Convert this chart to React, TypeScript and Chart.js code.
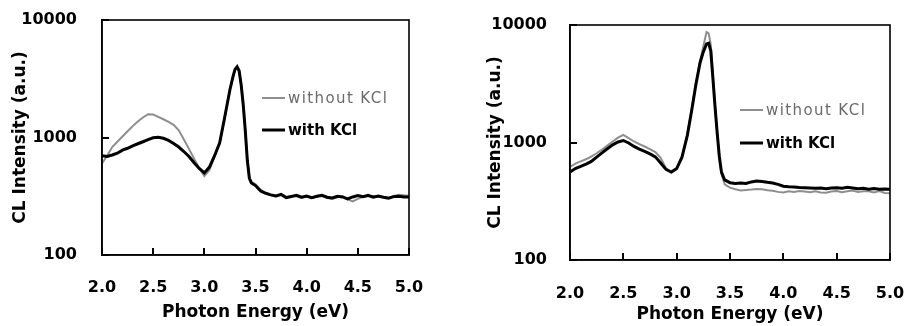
import React, { useEffect, useRef } from "react";
import { Chart, registerables } from "chart.js";

Chart.register(...registerables);

// ---------- data ----------
const yTickValues = [100, 1000, 10000];

const leftEnergy = [
  2.0, 2.05, 2.1, 2.15, 2.2, 2.25, 2.3, 2.35, 2.4, 2.45, 2.5, 2.55, 2.6, 2.65, 2.7, 2.75, 2.8, 2.85, 2.9, 2.95,
  3.0, 3.05, 3.1, 3.15, 3.2, 3.25, 3.28, 3.3, 3.32, 3.34, 3.36, 3.38, 3.4, 3.42, 3.44, 3.46, 3.5,
  3.55, 3.6, 3.65, 3.7, 3.75, 3.8, 3.85, 3.9, 3.95, 4.0, 4.05, 4.1, 4.15, 4.2, 4.25, 4.3, 4.35, 4.4,
  4.45, 4.5, 4.55, 4.6, 4.65, 4.7, 4.75, 4.8, 4.85, 4.9, 4.95, 5.0,
];
const leftWithKCl = [
  700, 690, 710, 735, 780, 810, 850, 885, 920, 960, 995, 1005, 985, 945, 890, 830, 760, 690, 610, 545,
  500, 560, 700, 900, 1500, 2550, 3300, 3800, 4000, 3700, 2800, 1900, 1150, 640, 450, 410, 390,
  350, 335, 325, 318, 328, 308, 315, 322, 310, 318, 308, 316, 322, 310, 306, 316, 312, 300,
  312, 320, 314, 322, 310, 318, 310, 304, 314, 316, 312, 312,
];
const leftWithoutKCl = [
  600, 700, 830, 920, 1020, 1130, 1250, 1370, 1480, 1580, 1570, 1500, 1430, 1360, 1280, 1150, 960, 800, 660, 550,
  470, 530, 690, 890, 1500, 2550, 3300, 3800, 4000, 3700, 2800, 1900, 1150, 650, 460, 420, 400,
  360, 338, 322, 315, 325, 312, 318, 316, 306, 314, 304, 314, 318, 305, 300, 310, 316, 298,
  286, 300, 312, 316, 318, 314, 312, 306, 318, 325, 322, 320,
];

const rightEnergy = [
  2.0, 2.05, 2.1, 2.15, 2.2, 2.25, 2.3, 2.35, 2.4, 2.45, 2.5, 2.55, 2.6, 2.65, 2.7, 2.75, 2.8, 2.85, 2.9, 2.95,
  3.0, 3.05, 3.1, 3.14, 3.18, 3.22, 3.25, 3.28, 3.3, 3.32, 3.34, 3.36, 3.38, 3.4, 3.42, 3.45, 3.5,
  3.55, 3.6, 3.65, 3.7, 3.75, 3.8, 3.85, 3.9, 3.95, 4.0, 4.05, 4.1, 4.15, 4.2, 4.25, 4.3, 4.35, 4.4,
  4.45, 4.5, 4.55, 4.6, 4.65, 4.7, 4.75, 4.8, 4.85, 4.9, 4.95, 5.0,
];
const rightWithKCl = [
  560, 600, 625, 655, 690, 750, 815, 885, 955, 1010, 1040, 990, 925, 880, 840, 800, 755, 670, 590, 560,
  600, 750, 1150, 1850, 3100, 4800, 5900, 6900, 7000, 6000, 3500, 2000, 1200, 760, 560, 480, 455,
  448, 452, 448, 462, 470, 466, 458, 452, 440, 425, 420, 418, 414, 412, 410, 408, 410, 404,
  410, 412, 408, 415, 410, 404, 408, 400, 405, 400, 402, 400,
];
const rightWithoutKCl = [
  620, 660, 690, 720, 760, 810, 870, 940, 1020, 1100, 1160, 1090, 1020, 970, 925, 880, 830, 740, 600, 556,
  595, 760, 1170, 1900, 3200, 5000, 6600, 8700, 8500, 6800, 3700, 2050, 1200, 740, 540, 440, 413,
  400, 390, 395, 398, 402, 400, 392, 388, 380, 376, 385, 380, 386, 383, 378, 384, 376, 374,
  382, 386, 378, 384, 390, 380, 385, 384, 376, 386, 372, 370,
];

const seriesNames = ["with KCl", "without KCl"];
const xTitle = "Photon Energy (eV)";
const yTitle = "CL Intensity (a.u.)";

// ---------- styling ----------
const FONT = "'DejaVu Sans', 'Liberation Sans', Arial, sans-serif";
const BLACK = "#000000";
const GRAY = "#8e8e8e";

type PanelLayout = {
  padTop: number;
  padRight: number;
  yWidth: number;
  xHeight: number;
  xTickPad: number;
  yTickPad: number;
  xTitlePad: number;
  yTitlePad: number;
  legendX: number;
  legendY1: number;
  legendY2: number;
};

const boxPlugin = {
  id: "box",
  afterDraw(chart: any) {
    const { ctx, chartArea } = chart;
    ctx.save();
    ctx.strokeStyle = BLACK;
    ctx.lineWidth = 1.6;
    ctx.strokeRect(chartArea.left, chartArea.top, chartArea.right - chartArea.left, chartArea.bottom - chartArea.top);
    // inward tick marks at the scales' tick positions
    ctx.lineWidth = 2;
    const xs = chart.scales.x;
    const ys = chart.scales.y;
    ctx.beginPath();
    xs.ticks.forEach((t: any) => {
      const px = Math.round(xs.getPixelForValue(t.value));
      ctx.moveTo(px, chartArea.bottom);
      ctx.lineTo(px, chartArea.bottom - 7);
    });
    ys.ticks.forEach((t: any) => {
      const py = Math.round(ys.getPixelForValue(t.value));
      ctx.moveTo(chartArea.left, py);
      ctx.lineTo(chartArea.left + 7, py);
    });
    ctx.stroke();
    ctx.restore();
  },
};

function legendPlugin(l: PanelLayout) {
  return {
    id: "customLegend",
    afterDraw(chart: any) {
      const ctx = chart.ctx;
      ctx.save();
      // without KCl
      ctx.strokeStyle = GRAY;
      ctx.lineWidth = 2;
      ctx.beginPath();
      ctx.moveTo(l.legendX, l.legendY1);
      ctx.lineTo(l.legendX + 23, l.legendY1);
      ctx.stroke();
      ctx.fillStyle = "#6a6a6a";
      ctx.font = `15px ${FONT}`;
      (ctx as any).letterSpacing = "1.4px";
      ctx.textBaseline = "middle";
      ctx.textAlign = "left";
      ctx.fillText(seriesNames[1], l.legendX + 26, l.legendY1 + 1);
      // with KCl
      (ctx as any).letterSpacing = "0px";
      ctx.strokeStyle = BLACK;
      ctx.lineWidth = 3;
      ctx.beginPath();
      ctx.moveTo(l.legendX, l.legendY2);
      ctx.lineTo(l.legendX + 23, l.legendY2);
      ctx.stroke();
      ctx.fillStyle = BLACK;
      ctx.font = `bold 15px ${FONT}`;
      ctx.fillText(seriesNames[0], l.legendX + 26, l.legendY2 + 1);
      ctx.restore();
    },
  };
}

function makeConfig(energy: number[], withK: number[], withoutK: number[], l: PanelLayout): any {
  const tickFont = { family: FONT, size: 16, weight: "bold" as const };
  const titleFont = { family: FONT, size: 17, weight: "bold" as const };
  return {
    type: "line",
    data: {
      datasets: [
        {
          label: seriesNames[0],
          data: energy.map((e, i) => ({ x: e, y: withK[i] })),
          borderColor: BLACK,
          borderWidth: 3,
          pointRadius: 0,
          tension: 0,
        },
        {
          label: seriesNames[1],
          data: energy.map((e, i) => ({ x: e, y: withoutK[i] })),
          borderColor: GRAY,
          borderWidth: 2,
          pointRadius: 0,
          tension: 0,
        },
      ],
    },
    options: {
      animation: false,
      responsive: false,
      layout: { padding: { top: l.padTop, right: l.padRight, left: 0, bottom: 0 } },
      plugins: { legend: { display: false }, tooltip: { enabled: false } },
      scales: {
        x: {
          type: "linear",
          min: 2,
          max: 5,
          ticks: {
            stepSize: 0.5,
            autoSkip: false,
            maxRotation: 0,
            color: BLACK,
            font: tickFont,
            padding: l.xTickPad,
            callback: (v: number) => Number(v).toFixed(1),
          },
          grid: { display: false },
          border: { display: true, color: BLACK, width: 1.6 },
          title: { display: true, text: xTitle, color: BLACK, font: titleFont, padding: { top: 0, bottom: l.xTitlePad } },
          afterFit: (s: any) => {
            s.height = l.xHeight;
            s.paddingLeft = 0;
            s.paddingRight = 0;
          },
        },
        y: {
          type: "logarithmic",
          min: 100,
          max: 10000,
          afterBuildTicks: (s: any) => {
            s.ticks = yTickValues.map((v) => ({ value: v }));
          },
          ticks: {
            color: BLACK,
            font: tickFont,
            padding: l.yTickPad,
            callback: (v: number) => String(v),
          },
          grid: { display: false },
          border: { display: true, color: BLACK, width: 1.6 },
          title: { display: true, text: yTitle, color: BLACK, font: titleFont, padding: { top: l.yTitlePad, bottom: 0 } },
          afterFit: (s: any) => {
            s.width = l.yWidth;
            s.paddingTop = 0;
            s.paddingBottom = 0;
          },
        },
      },
    },
    plugins: [boxPlugin, legendPlugin(l)],
  };
}

const leftLayout: PanelLayout = {
  padTop: 20,
  padRight: 43,
  yWidth: 102,
  xHeight: 71,
  xTickPad: 15,
  yTickPad: 17,
  xTitlePad: 3,
  yTitlePad: 10,
  legendX: 262,
  legendY1: 98,
  legendY2: 130,
};

const rightLayout: PanelLayout = {
  padTop: 25,
  padRight: 14,
  yWidth: 118,
  xHeight: 66,
  xTickPad: 16,
  yTickPad: 15,
  xTitlePad: 1,
  yTitlePad: 33,
  legendX: 288,
  legendY1: 110,
  legendY2: 143,
};

function Panel(props: { energy: number[]; withK: number[]; withoutK: number[]; layout: PanelLayout; left: number }) {
  const ref = useRef<HTMLCanvasElement | null>(null);
  useEffect(() => {
    if (!ref.current) return;
    const chart = new Chart(ref.current, makeConfig(props.energy, props.withK, props.withoutK, props.layout));
    return () => chart.destroy();
  }, []);
  return (
    <canvas
      ref={ref}
      width={452}
      height={326}
      style={{ position: "absolute", left: props.left, top: 0, width: 452, height: 326 }}
    />
  );
}

export default function App() {
  return (
    <div style={{ position: "fixed", left: 0, top: 0, width: 904, height: 326, background: "#ffffff" }}>
      <Panel energy={leftEnergy} withK={leftWithKCl} withoutK={leftWithoutKCl} layout={leftLayout} left={0} />
      <Panel energy={rightEnergy} withK={rightWithKCl} withoutK={rightWithoutKCl} layout={rightLayout} left={452} />
    </div>
  );
}
